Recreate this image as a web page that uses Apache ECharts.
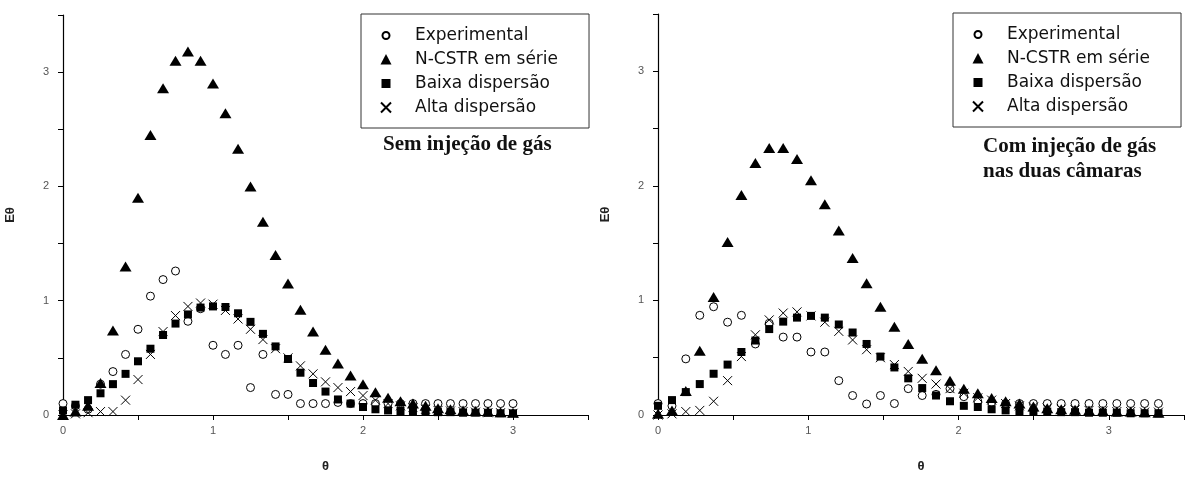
<!DOCTYPE html>
<html>
<head>
<meta charset="utf-8">
<script src="https://cdn.jsdelivr.net/npm/echarts@6/dist/echarts.min.js"></script>
<style>
html,body{margin:0;padding:0;background:#fff;}
#chart{width:1187px;height:478px;}
</style>
</head>
<body>
<div id="chart"></div>
<script>
// ---- data ----
const seriesNames = ['Experimental', 'N-CSTR em série', 'Baixa dispersão', 'Alta dispersão'];
const xTickLabels = ['0', '1', '2', '3'];
const yTickLabels = ['0', '1', '2', '3'];
const titleLeft = 'Sem injeção de gás';
const titleRight = 'Com injeção de gás\nnas duas câmaras';

// Left panel: Sem injeção de gás
const thetaL = [0, 0.083, 0.167, 0.25, 0.333, 0.417, 0.5, 0.583, 0.667, 0.75, 0.833, 0.917, 1.0, 1.083, 1.167, 1.25, 1.333, 1.417, 1.5, 1.583, 1.667, 1.75, 1.833, 1.917, 2.0, 2.083, 2.167, 2.25, 2.333, 2.417, 2.5, 2.583, 2.667, 2.75, 2.833, 2.917, 3.0];
const expL = [0.10, 0.08, 0.05, 0.27, 0.38, 0.53, 0.75, 1.04, 1.185, 1.26, 0.82, 0.93, 0.61, 0.53, 0.61, 0.24, 0.53, 0.18, 0.18, 0.10, 0.10, 0.10, 0.11, 0.10, 0.10, 0.10, 0.10, 0.10, 0.10, 0.10, 0.10, 0.10, 0.10, 0.10, 0.10, 0.10, 0.10];
const ncstrL = [0.00, 0.03, 0.08, 0.28, 0.74, 1.30, 1.90, 2.45, 2.86, 3.10, 3.18, 3.10, 2.90, 2.64, 2.33, 2.00, 1.69, 1.40, 1.15, 0.92, 0.73, 0.57, 0.45, 0.345, 0.27, 0.20, 0.15, 0.12, 0.10, 0.08, 0.06, 0.05, 0.04, 0.035, 0.03, 0.025, 0.02];
const baixaL = [0.04, 0.09, 0.13, 0.19, 0.27, 0.36, 0.47, 0.58, 0.70, 0.80, 0.88, 0.94, 0.95, 0.945, 0.89, 0.815, 0.71, 0.60, 0.49, 0.37, 0.28, 0.205, 0.136, 0.10, 0.07, 0.05, 0.04, 0.035, 0.03, 0.03, 0.025, 0.025, 0.02, 0.02, 0.02, 0.015, 0.015];
const altaL = [0.00, 0.01, 0.02, 0.03, 0.03, 0.13, 0.31, 0.53, 0.73, 0.87, 0.95, 0.98, 0.97, 0.915, 0.84, 0.75, 0.66, 0.58, 0.50, 0.43, 0.36, 0.29, 0.24, 0.205, 0.17, 0.13, 0.10, 0.08, 0.065, 0.05, 0.04, 0.035, 0.03, 0.025, 0.02, 0.02, 0.015];

// Right panel: Com injeção de gás nas duas câmaras
const thetaR = [0, 0.093, 0.185, 0.278, 0.37, 0.463, 0.555, 0.648, 0.74, 0.833, 0.925, 1.018, 1.11, 1.203, 1.295, 1.388, 1.48, 1.573, 1.665, 1.758, 1.85, 1.943, 2.035, 2.128, 2.22, 2.313, 2.405, 2.498, 2.59, 2.683, 2.775, 2.868, 2.96, 3.053, 3.145, 3.238, 3.33];
const expR = [0.10, 0.08, 0.49, 0.87, 0.945, 0.81, 0.87, 0.62, 0.80, 0.68, 0.68, 0.55, 0.55, 0.30, 0.17, 0.096, 0.17, 0.10, 0.23, 0.17, 0.18, 0.23, 0.16, 0.12, 0.11, 0.10, 0.10, 0.10, 0.10, 0.10, 0.10, 0.10, 0.10, 0.10, 0.10, 0.10, 0.10];
const ncstrR = [0.01, 0.04, 0.21, 0.56, 1.03, 1.51, 1.92, 2.20, 2.33, 2.33, 2.235, 2.05, 1.84, 1.61, 1.37, 1.15, 0.945, 0.77, 0.62, 0.49, 0.39, 0.30, 0.23, 0.19, 0.148, 0.12, 0.10, 0.075, 0.06, 0.05, 0.045, 0.04, 0.035, 0.03, 0.03, 0.025, 0.02];
const baixaR = [0.08, 0.13, 0.20, 0.27, 0.36, 0.44, 0.55, 0.65, 0.75, 0.815, 0.85, 0.865, 0.85, 0.79, 0.72, 0.62, 0.51, 0.415, 0.32, 0.235, 0.17, 0.12, 0.08, 0.07, 0.05, 0.04, 0.035, 0.03, 0.03, 0.025, 0.025, 0.02, 0.02, 0.02, 0.015, 0.015, 0.015];
const altaR = [0.00, 0.01, 0.03, 0.04, 0.12, 0.30, 0.51, 0.70, 0.83, 0.89, 0.90, 0.865, 0.81, 0.73, 0.655, 0.57, 0.50, 0.44, 0.38, 0.32, 0.27, 0.23, 0.19, 0.15, 0.13, 0.10, 0.08, 0.07, 0.06, 0.05, 0.045, 0.04, 0.035, 0.03, 0.03, 0.025, 0.025];

// ---- build ----
const pairs = (xs, ys) => xs.map((x, i) => [x, ys[i]]);
const labelFmt = (labels) => (v) => {
  const r = Math.round(v);
  return Math.abs(v - r) < 1e-9 && labels[r] !== undefined ? labels[r] : '';
};

const styles = {
  'Experimental': { symbol: 'circle', symbolSize: 8, itemStyle: { color: '#fff', borderColor: '#000', borderWidth: 1, opacity: 1 } },
  'N-CSTR em série': { symbol: 'triangle', symbolSize: [12, 10], itemStyle: { color: '#000', opacity: 1 } },
  'Baixa dispersão': { symbol: 'rect', symbolSize: 8, itemStyle: { color: '#000', opacity: 1 } },
  'Alta dispersão': { symbol: 'path://M0,0L10,10M10,0L0,10', symbolSize: 9, itemStyle: { color: 'transparent', borderColor: '#000', borderWidth: 1, opacity: 1 } }
};
const legendIcons = {
  'Experimental': 'path://M0,0M14,14M3.5,7A3.5,3.5,0,1,0,10.5,7A3.5,3.5,0,1,0,3.5,7Z',
  'N-CSTR em série': 'path://M0,0M14,14M7,1.5L12.5,12L1.5,12Z',
  'Baixa dispersão': 'path://M0,0M14,14M2.5,2.5L11.5,2.5L11.5,11.5L2.5,11.5Z',
  'Alta dispersão': 'path://M0,0M14,14M2,2L12,12M12,2L2,12'
};

const drawOrder = ['Experimental', 'Baixa dispersão', 'Alta dispersão', 'N-CSTR em série'];
const panelData = [
  { theta: thetaL, vals: { 'Experimental': expL, 'N-CSTR em série': ncstrL, 'Baixa dispersão': baixaL, 'Alta dispersão': altaL } },
  { theta: thetaR, vals: { 'Experimental': expR, 'N-CSTR em série': ncstrR, 'Baixa dispersão': baixaR, 'Alta dispersão': altaR } }
];

const axisCommon = {
  type: 'value', min: 0, max: 3.5, interval: 0.5,
  splitLine: { show: false },
  axisLine: { show: true, lineStyle: { color: '#000', width: 1.2 } },
  axisTick: { show: true, inside: false, length: 5, lineStyle: { color: '#000', width: 1 } },
  nameTextStyle: { fontFamily: 'Liberation Sans', fontWeight: 'bold', fontSize: 13, color: '#222' }
};

const grids = [
  { left: 63, top: 15, width: 525, height: 403 },
  { left: 658, top: 14, width: 528, height: 403 }
];

const xAxes = grids.map((g, i) => Object.assign({}, axisCommon, {
  gridIndex: i, name: 'θ', nameLocation: 'middle', nameGap: 45,
  axisLabel: { formatter: labelFmt(xTickLabels), fontFamily: 'Liberation Sans', fontSize: 11, color: '#555', margin: 10 }
}));
const yAxes = grids.map((g, i) => Object.assign({}, axisCommon, {
  gridIndex: i, name: 'Eθ', nameLocation: 'middle', nameGap: 46,
  axisLabel: { formatter: labelFmt(yTickLabels), fontFamily: 'Liberation Sans', fontSize: 11, color: '#555', margin: 14 }
}));

const series = [];
panelData.forEach((p, gi) => {
  drawOrder.forEach((name) => {
    series.push(Object.assign({
      type: 'scatter', name: name, xAxisIndex: gi, yAxisIndex: gi,
      data: pairs(p.theta, p.vals[name]),
      emphasis: { disabled: true },
      animation: false
    }, styles[name]));
  });
});

const legendCommon = {
  orient: 'vertical', itemWidth: 48, itemHeight: 14, itemGap: 7,
  borderColor: '#333', borderWidth: 1, backgroundColor: '#fff',
  padding: [13, 31, 12, 17],
  selectedMode: false,
  textStyle: { fontFamily: 'DejaVu Sans', fontSize: 17, color: '#111' },
  data: seriesNames.map((n) => ({ name: n, icon: legendIcons[n] }))
};

const option = {
  backgroundColor: '#fff',
  animation: false,
  grid: grids,
  xAxis: xAxes,
  yAxis: yAxes,
  legend: [
    Object.assign({}, legendCommon, { left: 361, top: 14 }),
    Object.assign({}, legendCommon, { left: 953, top: 13 })
  ],
  title: [
    { text: titleLeft, left: 383, top: 134, padding: 0,
      textStyle: { fontFamily: 'Liberation Serif', fontWeight: 'bold', fontSize: 21, color: '#111' } },
    { text: titleRight, left: 983, top: 134, padding: 0,
      textStyle: { fontFamily: 'Liberation Serif', fontWeight: 'bold', fontSize: 21, lineHeight: 25, color: '#111' } }
  ],
  series: series
};

const chart = echarts.init(document.getElementById('chart'), null, { renderer: 'canvas' });
chart.setOption(option);
</script>
</body>
</html>
